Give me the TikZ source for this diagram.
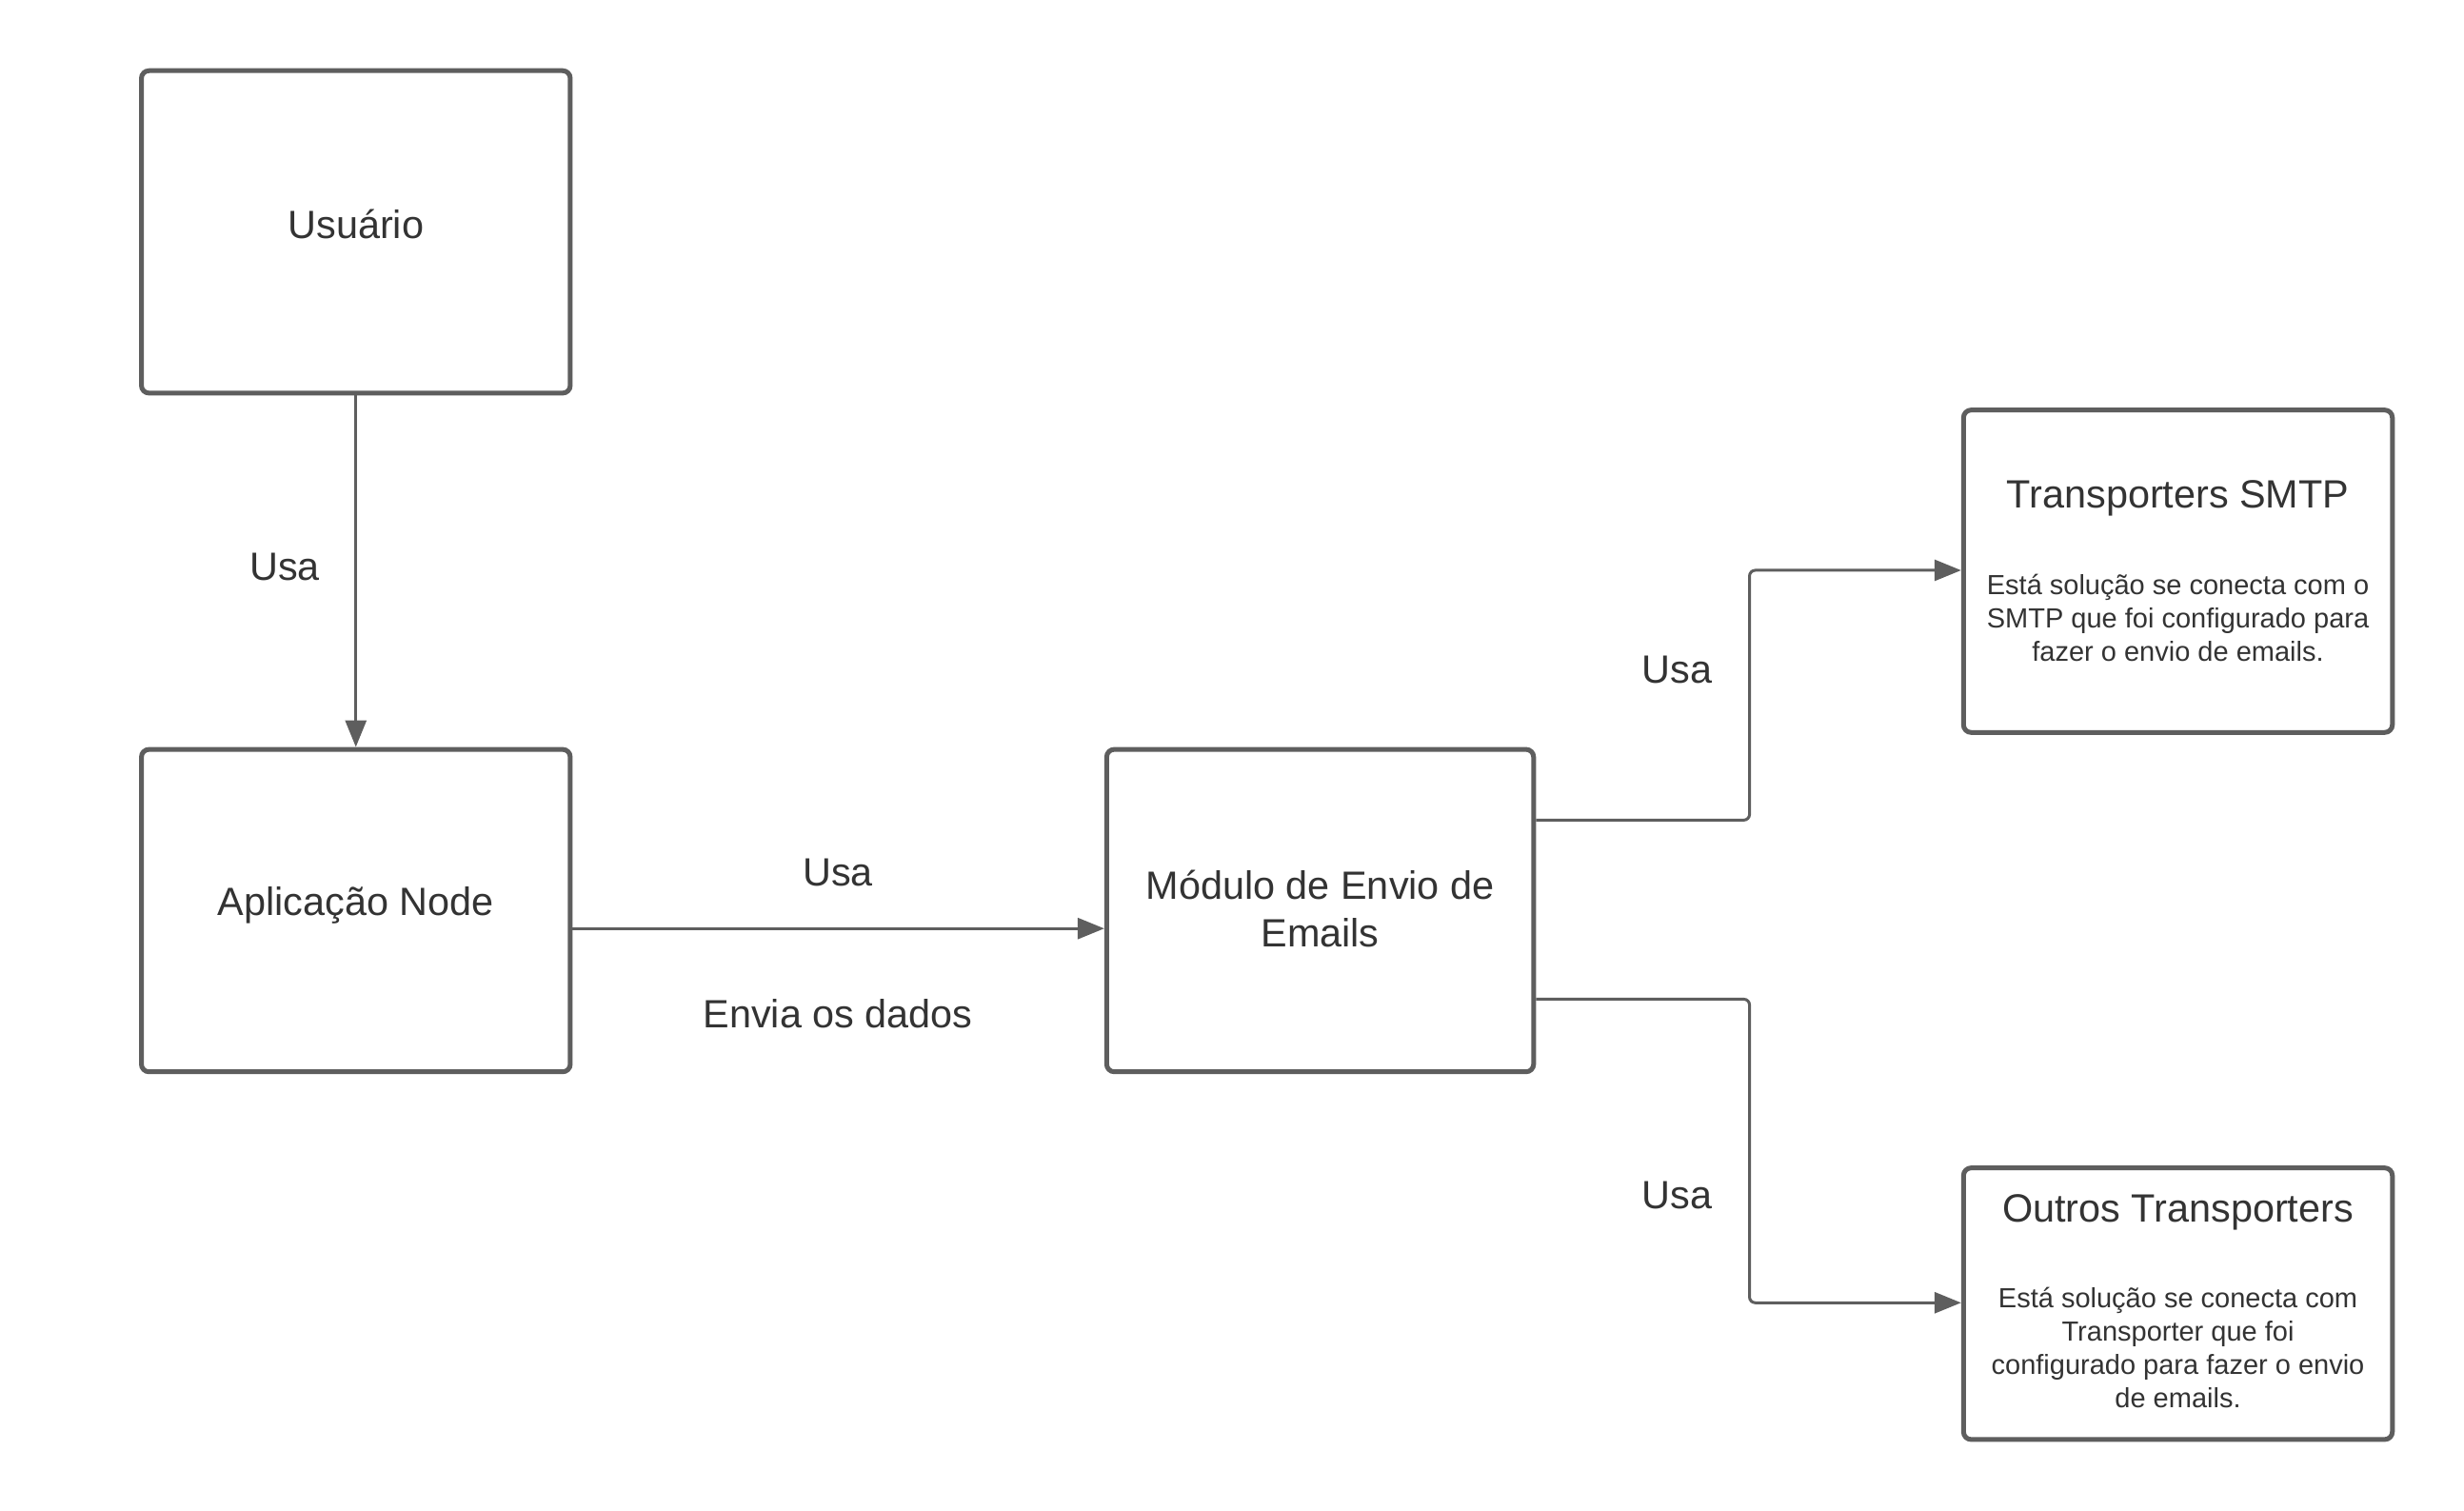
\documentclass[tikz,border=0pt]{standalone}
\usepackage{fontspec}
\setmainfont{Liberation Sans}
\usetikzlibrary{arrows.meta}
\definecolor{boxgray}{HTML}{5E5E5E}
\definecolor{txt}{HTML}{333333}
\tikzset{
  box/.style={draw=boxgray, line width=2.5pt, rounded corners=4pt, fill=white, inner sep=0pt},
  lbl/.style={text=txt, font=\fontsize{20.7}{25}\selectfont, align=center, inner sep=0pt},
  small/.style={text=txt, font=\fontsize{14.5}{17.5}\selectfont, align=center, inner sep=0pt},
  conn/.style={draw=boxgray, line width=1.5pt, rounded corners=3pt, -{Triangle[length=14pt,width=11pt]}},
}
\begin{document}
\begin{tikzpicture}[x=0.495pt,y=-0.495pt]
\useasboundingbox (0,0) rectangle (2614,1602);
% boxes
\node[box, minimum width=225.2pt, minimum height=169.3pt] (usr) at (377.5,246) {};
\node[box, minimum width=225.2pt, minimum height=169.3pt] (app) at (377.5,966) {};
\node[box, minimum width=224.2pt, minimum height=169.3pt] (mod) at (1400.5,966) {};
\node[box, minimum width=225.2pt, minimum height=169.3pt] (smtp) at (2310.5,606) {};
\node[box, minimum width=225.2pt, minimum height=142.6pt] (out) at (2310.5,1383) {};
% texts in boxes
\node[lbl] (tusr) at (377.5,238) {Usuário};
\node[lbl] (tapp) at (377.5,960) {Aplicação Node};
\node[lbl] (tmod) at (1400.5,964) {Módulo de Envio de\\Emails};
\node[lbl] (tsmtp) at (2310.5,529) {Transporters SMTP};
\node[small] (bsmtp) at (2310.5,655) {Está solução se conecta com o\\SMTP que foi configurado para\\fazer o envio de emails.};
\node[lbl] (tout) at (2310.5,1286) {Outros Transporters};
\node[small] (bout) at (2310.5,1430) {Está solução se conecta com\\Transporter que foi\\configurado para fazer o envio\\de emails.};
% connectors
\coordinate (m1) at (1856,870);
\coordinate (m2) at (1856,1060);
\draw[conn] (usr.south) -- (app.north);
\draw[conn] (app.east |- 0,985) -- (mod.west |- 0,985);
\draw[conn] (mod.east |- m1) -- (m1) |- (smtp.west |- 0,605);
\draw[conn] (mod.east |- m2) -- (m2) |- (out.west |- 0,1382);
% labels
\node[lbl] (l1) at (302,601) {Usa};
\node[lbl] (l2) at (889,926) {Usa};
\node[lbl] (l3) at (889,1075) {Envia os dados};
\node[lbl] (l4) at (1779,711) {Usa};
\node[lbl] (l5) at (1779,1268) {Usa};
\end{tikzpicture}
\end{document}
